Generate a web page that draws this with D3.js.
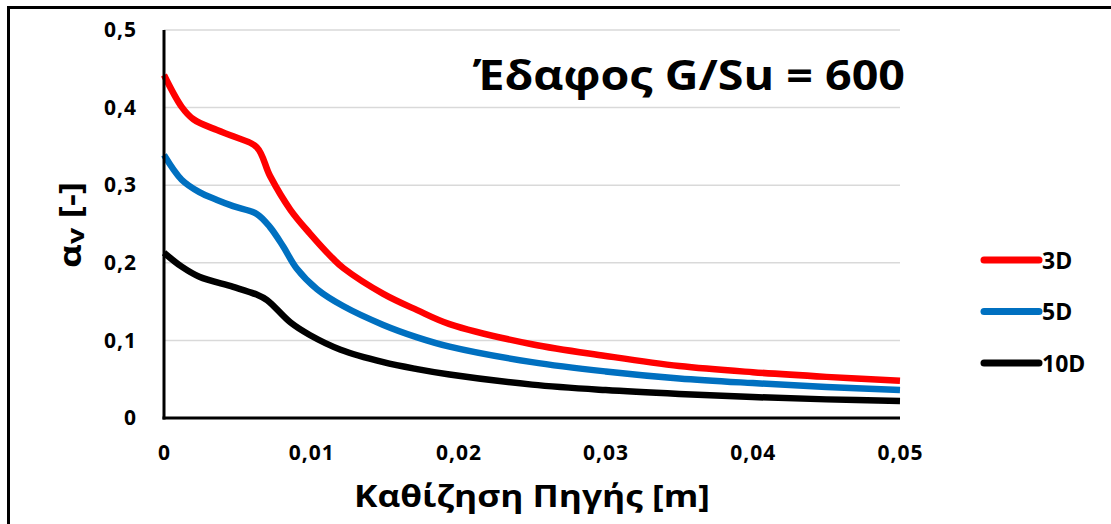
<!DOCTYPE html>
<html>
<head>
<meta charset="utf-8">
<script src="https://cdn.jsdelivr.net/npm/d3@7"></script>
<style>
  html, body { margin: 0; padding: 0; background: #fff; }
  svg { display: block; font-family: "Open Sans", "DejaVu Sans", sans-serif; font-weight: bold; }
</style>
</head>
<body>
<div id="chart"></div>
<script>
// settlement [m]
const xs3D = [0, 0.0012, 0.002, 0.0036, 0.0047, 0.0063, 0.0072, 0.0086, 0.0099, 0.0115, 0.0122, 0.0149, 0.0172, 0.0194, 0.025, 0.03, 0.035, 0.04, 0.045, 0.05];
const vals3D = [0.442, 0.401, 0.385, 0.371, 0.363, 0.349, 0.312, 0.268, 0.238, 0.205, 0.193, 0.160, 0.139, 0.121, 0.095, 0.080, 0.067, 0.059, 0.053, 0.048];

const xs5D = [0, 0.0012, 0.0024, 0.0036, 0.0047, 0.0063, 0.0072, 0.0081, 0.009, 0.0104, 0.0122, 0.0149, 0.0172, 0.0194, 0.025, 0.03, 0.035, 0.04, 0.045, 0.05];
const vals5D = [0.339, 0.307, 0.291, 0.281, 0.273, 0.263, 0.246, 0.221, 0.193, 0.166, 0.144, 0.120, 0.104, 0.092, 0.072, 0.060, 0.051, 0.045, 0.040, 0.036];

const xs10D = [0, 0.0012, 0.0024, 0.0047, 0.0063, 0.007, 0.0086, 0.0099, 0.012, 0.0149, 0.0172, 0.0194, 0.025, 0.03, 0.035, 0.04, 0.045, 0.05];
const vals10D = [0.213, 0.195, 0.182, 0.169, 0.159, 0.152, 0.123, 0.107, 0.088, 0.072, 0.063, 0.056, 0.043, 0.036, 0.031, 0.027, 0.024, 0.022];

const seriesNames = ["3D", "5D", "10D"];
const seriesColors = ["#ff0000", "#0070c0", "#000000"];
const xTicks = [0, 0.01, 0.02, 0.03, 0.04, 0.05];
const yTicks = [0, 0.1, 0.2, 0.3, 0.4, 0.5];

const series = [
  { name: seriesNames[0], color: seriesColors[0], xs: xs3D, ys: vals3D },
  { name: seriesNames[1], color: seriesColors[1], xs: xs5D, ys: vals5D },
  { name: seriesNames[2], color: seriesColors[2], xs: xs10D, ys: vals10D },
];

const width = 1111, height = 524;
const plot = { left: 164, right: 900, top: 30, bottom: 418 };

const svg = d3.select("#chart").append("svg")
  .attr("width", width).attr("height", height);

// outer frame (cut off at right and bottom)
svg.append("rect")
  .attr("x", 8.5).attr("y", 7.5)
  .attr("width", width + 20).attr("height", height + 20)
  .attr("fill", "none").attr("stroke", "#000").attr("stroke-width", 3);

const x = d3.scaleLinear().domain([0, 0.05]).range([plot.left, plot.right]);
const y = d3.scaleLinear().domain([0, 0.5]).range([plot.bottom, plot.top]);

const fmt = (d) => (d === 0 ? "0" : d3.format(".2~f")(d).replace(".", ","));

// gridlines
svg.append("g")
  .selectAll("line")
  .data(yTicks.filter((d) => d > 0))
  .join("line")
  .attr("x1", plot.left).attr("x2", plot.right)
  .attr("y1", (d) => y(d)).attr("y2", (d) => y(d))
  .attr("stroke", "#d9d9d9").attr("stroke-width", 1.5);

// y axis
const yAxis = svg.append("g")
  .attr("transform", `translate(${plot.left},0)`)
  .call(d3.axisLeft(y).tickValues(yTicks).tickSize(0).tickPadding(27).tickFormat((d) => fmt(+d.toFixed(1))));
yAxis.select(".domain").remove();
yAxis.selectAll("text")
  .attr("font-size", 21).attr("font-weight", "bold").attr("fill", "#000")
  .attr("letter-spacing", 1)
  .attr("font-family", "Open Sans");

// x axis
const xAxis = svg.append("g")
  .attr("transform", `translate(0,${plot.bottom})`)
  .call(d3.axisBottom(x).tickValues(xTicks).tickSize(0).tickPadding(27).tickFormat((d) => fmt(+d.toFixed(2))));
xAxis.select(".domain").remove();
xAxis.selectAll("text")
  .attr("font-size", 21).attr("font-weight", "bold").attr("fill", "#000")
  .attr("letter-spacing", 1)
  .attr("font-family", "Open Sans");

// series lines
const line = d3.line()
  .x((d) => x(d[0]))
  .y((d) => y(d[1]))
  .curve(d3.curveCatmullRom.alpha(0.5));

svg.append("g")
  .selectAll("path")
  .data(series)
  .join("path")
  .attr("d", (s) => line(d3.zip(s.xs, s.ys)))
  .attr("fill", "none")
  .attr("stroke", (s) => s.color)
  .attr("stroke-width", 6.5)
  .attr("stroke-linejoin", "round");

// axis lines
svg.append("line")
  .attr("x1", plot.left).attr("x2", plot.left)
  .attr("y1", plot.top).attr("y2", plot.bottom + 1.5)
  .attr("stroke", "#000").attr("stroke-width", 3);
svg.append("line")
  .attr("x1", plot.left - 1.5).attr("x2", plot.right)
  .attr("y1", plot.bottom).attr("y2", plot.bottom)
  .attr("stroke", "#000").attr("stroke-width", 3);

// legend
const legend = svg.append("g")
  .selectAll("g")
  .data(series)
  .join("g")
  .attr("transform", (s, i) => `translate(984,${260 + i * 51.5})`);
legend.append("line")
  .attr("x1", 0).attr("x2", 55)
  .attr("stroke", (s) => s.color).attr("stroke-width", 7).attr("stroke-linecap", "round");
legend.append("text")
  .attr("x", 58).attr("y", 8.5)
  .attr("font-size", 23).attr("fill", "#000")
  .text((s) => s.name);

// title
svg.append("text")
  .attr("x", 473).attr("y", 90)
  .attr("font-size", 41)
  .attr("textLength", 432).attr("lengthAdjust", "spacingAndGlyphs")
  .text("Έδαφος G/Su = 600");

// axis titles
svg.append("text")
  .attr("x", 532).attr("y", 507)
  .attr("text-anchor", "middle")
  .attr("font-size", 31)
  .attr("textLength", 356).attr("lengthAdjust", "spacingAndGlyphs")
  .text("Καθίζηση Πηγής [m]");

const yTitle = svg.append("text")
  .attr("transform", "translate(81,225) rotate(-90)")
  .attr("text-anchor", "middle")
  .attr("font-size", 31)
  .attr("textLength", 86).attr("lengthAdjust", "spacingAndGlyphs");
yTitle.append("tspan").text("α");
yTitle.append("tspan").attr("font-size", 24).attr("dy", 3).text("v");
yTitle.append("tspan").attr("dy", -3).text(" [-]");
</script>
</body>
</html>
